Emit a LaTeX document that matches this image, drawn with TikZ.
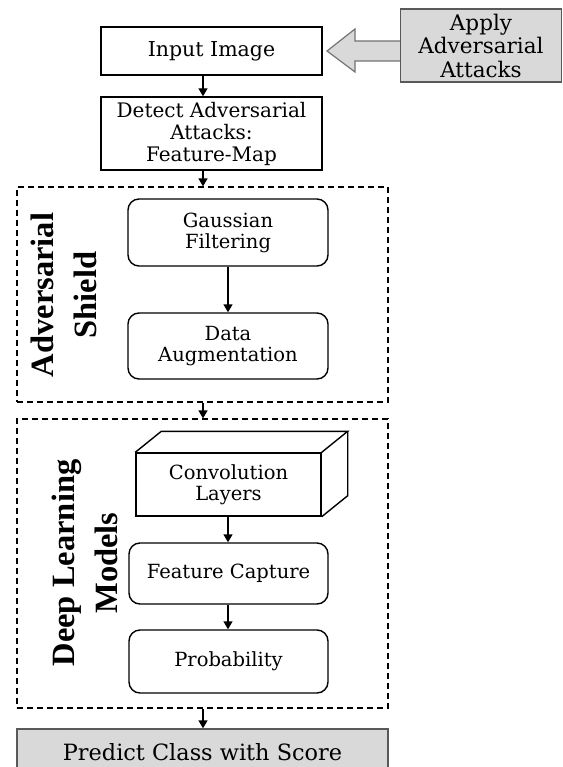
\documentclass[tikz,border=0pt]{standalone}
\usepackage{fontspec}
\setmainfont{DejaVu Serif}
\newfontfamily\sidefont{Liberation Serif}
\usetikzlibrary{arrows.meta,calc}
\tikzset{
  box/.style={draw=black, line width=1.4pt, align=center, inner sep=0pt, text=black},
  rbox/.style={box, rounded corners=11pt},
  dbox/.style={draw=black, line width=1.3pt, dash pattern=on 6pt off 4pt, inner sep=0pt},
  gbox/.style={draw=black!65, line width=1.4pt, fill=black!15, align=center, inner sep=0pt},
  arr/.style={line width=1.4pt, -{Triangle[length=8pt,width=9pt]}},
  side/.style={rotate=90, align=center, font=\sidefont\bfseries\fontsize{32.5}{43}\selectfont},
  inner/.style={font=\fontsize{19.5}{21}\selectfont},
}
\begin{document}
\begin{tikzpicture}[x=1pt,y=-1pt]
\useasboundingbox (0,0) rectangle (562,767);
\coordinate (ax) at (203,0);
\coordinate (bx) at (228,0);
% top boxes
\node[box, minimum width=221pt, minimum height=48pt, font=\fontsize{20.5}{22}\selectfont] (inp) at (211.5,51) {Input Image};
\node[box, minimum width=221pt, minimum height=73pt, font=\fontsize{20}{22}\selectfont] (det) at (211.5,133.5) {Detect Adversarial\\Attacks:\\Feature-Map};
\node[gbox, minimum width=161pt, minimum height=73pt, font=\fontsize{21.5}{23.5}\selectfont] (apply) at (481,45.5) {Apply\\Adversarial\\Attacks};
% hollow arrow
\draw[draw=black!55, fill=black!15, line width=1.2pt, line join=miter]
  (apply.west |- 0,41) -- (355,41) -- (355,29) -- (327,51) -- (355,72) -- (355,61) -- (apply.west |- 0,61);
% shield
\node[dbox, minimum width=371pt, minimum height=215pt] (shield) at (202.5,294.5) {};
\node[rbox, inner, minimum width=200pt, minimum height=67pt] (gauss) at (228,232.5) {Gaussian\\Filtering};
\node[rbox, inner, minimum width=200pt, minimum height=66pt] (aug) at (228,346) {Data\\Augmentation};
\node[side] (shl) at (64,295) {Adversarial\\Shield};
% deep
\node[dbox, minimum width=371pt, minimum height=289pt] (deep) at (202.5,563.5) {};
\node[box, inner, minimum width=185pt, minimum height=63pt] (conv) at (228.5,484.5) {Convolution\\Layers};
\draw[line width=1.4pt, line join=miter] (conv.north west) -- ++(26,-21) -- ($(conv.north east)+(26,-21)$) -- (conv.north east);
\draw[line width=1.4pt, line join=miter] ($(conv.north east)+(26,-21)$) -- ($(conv.south east)+(26,-21)$) -- (conv.south east);
\node[rbox, inner, minimum width=199pt, minimum height=61pt] (feat) at (228.5,573.5) {Feature Capture};
\node[rbox, inner, minimum width=199pt, minimum height=63pt] (prob) at (228.5,661.5) {Probability};
\node[side] (dll) at (85,563) {Deep Learning\\Models};
% predict
\node[gbox, minimum width=371pt, minimum height=46pt, font=\fontsize{22.4}{24}\selectfont] (pred) at (202.5,752) {Predict Class with Score};
% arrows
\draw[arr] (inp.south -| ax) -- (det.north -| ax);
\draw[arr] (det.south -| ax) -- (shield.north -| ax);
\draw[arr] (shield.south -| ax) -- (deep.north -| ax);
\draw[arr] (deep.south -| ax) -- (pred.north -| ax);
\draw[arr] (gauss.south -| bx) -- (aug.north -| bx);
\draw[arr] (conv.south -| bx) -- (feat.north -| bx);
\draw[arr] (feat.south -| bx) -- (prob.north -| bx);
\end{tikzpicture}
\end{document}
